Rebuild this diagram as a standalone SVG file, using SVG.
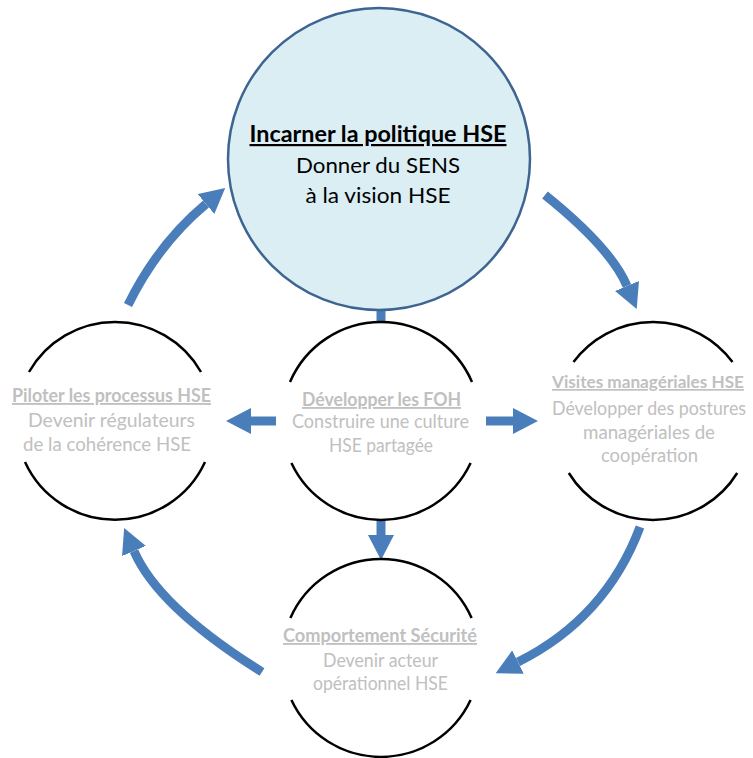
<svg xmlns="http://www.w3.org/2000/svg" width="753" height="758" viewBox="0 0 753 758">
<style>
.ring{fill:none;stroke:#000;stroke-width:2.5}
.flow{fill:none;stroke:#4a7ebb;stroke-width:9}
.curve{marker-end:url(#head)}
.t{font-family:Lato,"Open Sans","Liberation Sans",sans-serif;text-anchor:middle}
.big{font-size:22px;fill:#000}
.small{font-size:18.5px;fill:#c0c0c0}
.tight{font-size:17px}
.ttl{font-weight:bold;text-decoration:underline}
</style>
<defs>
<marker id="head" markerUnits="userSpaceOnUse" markerWidth="25" markerHeight="26" viewBox="0 0 25 26" refX="0" refY="13" orient="auto">
<path d="M0,0 L25,13 L0,26 Z" fill="#4a7ebb"/>
</marker>
</defs>
<rect width="753" height="758" fill="#fff"/>
<g id="connectors">
<path class="flow" d="M381,309 L381,323"/>
<path class="flow curve" d="M276,421 L251,421"/>
<path class="flow curve" d="M486,421 L513,421"/>
<path class="flow curve" d="M381,519 L381,535"/>
<path class="flow curve" d="M128,305 Q158,244 206,204"/>
<path class="flow curve" d="M545,195 Q611,248 627,286"/>
<path class="flow curve" d="M640,527 Q606,618 518,662"/>
<path class="flow curve" d="M262,672 Q158,607 134,551"/>
</g>
<g id="incarner">
<circle cx="379" cy="159" r="151" fill="#dbeef4" stroke="#3e6591" stroke-width="2.5"/>
<text class="t big ttl" x="378" y="142" textLength="257" lengthAdjust="spacingAndGlyphs">Incarner la politique HSE</text>
<text class="t big" x="378" y="173" textLength="164" lengthAdjust="spacingAndGlyphs">Donner du SENS</text>
<text class="t big" x="378" y="203" textLength="145" lengthAdjust="spacingAndGlyphs">à la vision HSE</text>
</g>
<g id="piloter">
<path class="ring" d="M29,372 A99,99 0 0 1 201,372"/>
<path class="ring" d="M25,462 A99,99 0 0 0 205,462"/>
<text class="t small ttl" x="111.5" y="402" textLength="199" lengthAdjust="spacingAndGlyphs">Piloter les processus HSE</text>
<text class="t small" x="111.5" y="427" textLength="167" lengthAdjust="spacingAndGlyphs">Devenir régulateurs</text>
<text class="t small" x="107" y="451" textLength="168" lengthAdjust="spacingAndGlyphs">de la cohérence HSE</text>
</g>
<g id="developper">
<path class="ring" d="M290,382 A99,99 0 0 1 472,382"/>
<path class="ring" d="M291.4,463 A99,99 0 0 0 470.6,463"/>
<text class="t small ttl" x="381.5" y="406" textLength="159" lengthAdjust="spacingAndGlyphs">Développer les FOH</text>
<text class="t small" x="380.5" y="428" textLength="177" lengthAdjust="spacingAndGlyphs">Construire une culture</text>
<text class="t small" x="381" y="452" textLength="104" lengthAdjust="spacingAndGlyphs">HSE partagée</text>
</g>
<g id="visites">
<path class="ring" d="M573.5,362 A99,99 0 0 1 732.5,362"/>
<path class="ring" d="M568.8,473 A99,99 0 0 0 737.2,473"/>
<text class="t small tight ttl" x="648" y="388" textLength="192" lengthAdjust="spacingAndGlyphs">Visites managériales HSE</text>
<text class="t small" x="649" y="415" textLength="194" lengthAdjust="spacingAndGlyphs">Développer des postures</text>
<text class="t small" x="649" y="439" textLength="132" lengthAdjust="spacingAndGlyphs">managériales de</text>
<text class="t small" x="649.5" y="462" textLength="97" lengthAdjust="spacingAndGlyphs">coopération</text>
</g>
<g id="comportement">
<path class="ring" d="M290.4,618 A99,99 0 0 1 471.6,618"/>
<path class="ring" d="M291.4,700 A99,99 0 0 0 470.6,700"/>
<text class="t small ttl" x="380" y="642" textLength="194" lengthAdjust="spacingAndGlyphs">Comportement Sécurité</text>
<text class="t small" x="380.5" y="667" textLength="115" lengthAdjust="spacingAndGlyphs">Devenir acteur</text>
<text class="t small" x="380.5" y="690" textLength="135" lengthAdjust="spacingAndGlyphs">opérationnel HSE</text>
</g>
</svg>
